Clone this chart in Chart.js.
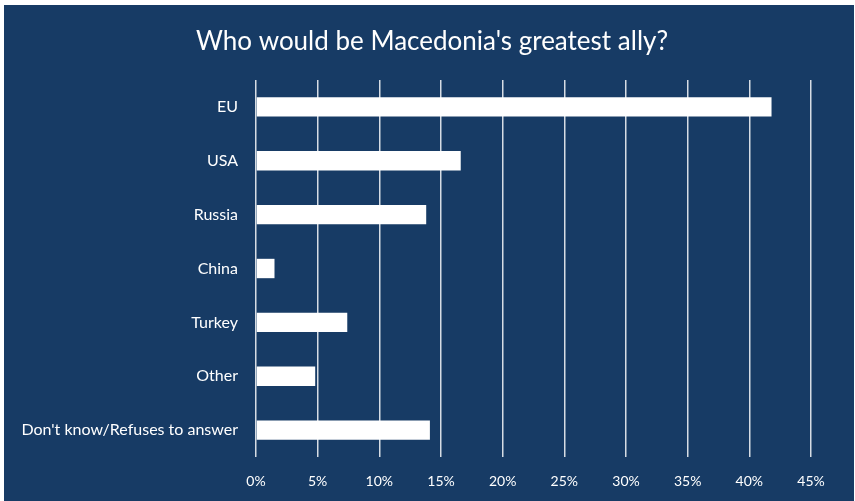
<!DOCTYPE html>
<html>
<head>
<meta charset="utf-8">
<script src="https://cdn.jsdelivr.net/npm/chart.js@4"></script>
<style>
  html, body { margin: 0; padding: 0; background: #fff; }
  #wrap {
    position: absolute;
    left: 4px;
    top: 5px;
    width: 850px;
    height: 496px;
    background: #173b65;
  }
</style>
</head>
<body>
<div id="wrap"><canvas id="chart"></canvas></div>
<script>
const titleText = "Who would be Macedonia's greatest ally?";
const categories = ["EU", "USA", "Russia", "China", "Turkey", "Other", "Don't know/Refuses to answer"];
const shares = [41.8, 16.6, 13.8, 1.5, 7.4, 4.8, 14.1];
const axisMin = 0;
const axisMax = 45;
const axisStep = 5;

const font = "Lato, 'Open Sans', sans-serif";

// the built-in title respects layout padding, so it sat off-centre; draw it ourselves
const centredTitle = {
  id: "centredTitle",
  afterDraw(chart) {
    const ctx = chart.ctx;
    ctx.save();
    ctx.font = "26px " + font;
    ctx.fillStyle = "#ffffff";
    ctx.textAlign = "center";
    ctx.textBaseline = "middle";
    ctx.fillText(titleText, chart.width / 2 + 3, 37);
    ctx.restore();
  }
};

new Chart(document.getElementById("chart"), {
  type: "bar",
  data: {
    labels: categories,
    datasets: [{
      data: shares,
      backgroundColor: "#ffffff",
      borderWidth: 0,
      barPercentage: 0.36,
      categoryPercentage: 1
    }]
  },
  options: {
    indexAxis: "y",
    responsive: true,
    maintainAspectRatio: false,
    animation: false,
    layout: { padding: { left: 0, right: 43, top: 75, bottom: 0 } },
    plugins: {
      legend: { display: false },
      tooltip: { enabled: false },
      title: { display: false }
    },
    scales: {
      x: {
        min: axisMin,
        max: axisMax,
        afterFit: axis => { axis.height = 44; },
        grid: {
          color: "rgba(235,238,242,0.9)",
          lineWidth: 1.5,
          drawTicks: false
        },
        border: { display: false },
        ticks: {
          stepSize: axisStep,
          padding: 16,
          color: "#ffffff",
          font: { family: font, size: 14 },
          callback: v => v + "%"
        }
      },
      y: {
        afterFit: axis => { axis.width = 252; },
        grid: { display: false, drawTicks: false },
        border: { display: false },
        ticks: {
          padding: 18,
          color: "#ffffff",
          font: { family: font, size: 16 }
        }
      }
    }
  },
  plugins: [centredTitle]
});
</script>
</body>
</html>
